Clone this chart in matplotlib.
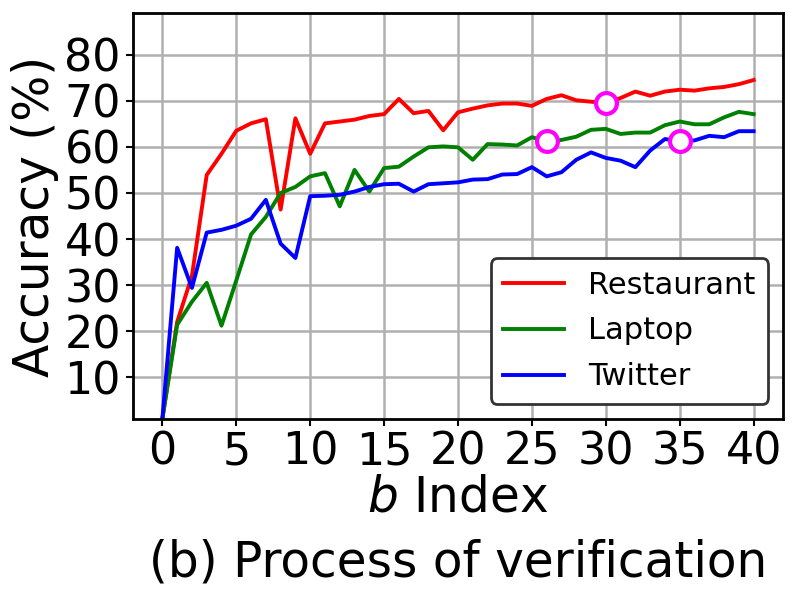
import matplotlib
matplotlib.use('Agg')
import matplotlib.pyplot as plt

b_index = list(range(41))

restaurant = [1, 22, 32, 53.9, 58.5, 63.5, 65.1, 66, 46.4, 66.2, 58.5, 65.1, 65.5, 65.9,
              66.7, 67.1, 70.4, 67.3, 67.8, 63.6, 67.5, 68.3, 69.0, 69.4, 69.4, 68.9,
              70.4, 71.2, 70.1, 69.8, 69.5, 70.6, 72.0, 71.1, 72.0, 72.4, 72.2, 72.7,
              73.0, 73.6, 74.5]
laptop = [1, 21.4, 26.4, 30.5, 21.2, 31, 41, 44.8, 50, 51.3, 53.6, 54.3, 47.1, 55.0,
          50.3, 55.4, 55.7, 57.9, 59.9, 60.1, 59.9, 57.2, 60.6, 60.5, 60.3, 62.1,
          61.2, 61.5, 62.2, 63.7, 63.9, 62.8, 63.1, 63.1, 64.7, 65.5, 64.9, 64.9,
          66.4, 67.6, 67.1]
twitter = [1, 38.1, 29.4, 41.4, 42, 42.9, 44.4, 48.5, 39, 35.9, 49.3, 49.4, 49.6, 50.3,
           51.3, 51.9, 52.0, 50.3, 51.9, 52.1, 52.3, 52.9, 53.0, 54.0, 54.1, 55.6,
           53.6, 54.5, 57.2, 58.8, 57.6, 57.0, 55.6, 59.2, 61.7, 61.2, 61.4, 62.4,
           62.1, 63.4, 63.4]

# highlighted points (index, series)
marks = [(26, laptop), (30, restaurant), (35, twitter)]

fig = plt.figure(figsize=(8, 6), dpi=100)
ax = fig.add_axes([0.166, 0.302, 0.813, 0.676])

ax.plot(b_index, restaurant, color='red', lw=2.8, label='Restaurant')
ax.plot(b_index, laptop, color='green', lw=2.8, label='Laptop')
ax.plot(b_index, twitter, color='blue', lw=2.8, label='Twitter')

for i, series in marks:
    ax.plot(b_index[i], series[i], 'o', markersize=15, markerfacecolor='white',
            markeredgecolor='magenta', markeredgewidth=3, zorder=5)

ax.set_ylim(1, 89)
ax.set_yticks([10, 20, 30, 40, 50, 60, 70, 80])
ax.set_xticks([0, 5, 10, 15, 20, 25, 30, 35, 40])
ax.grid(True, color='#b0b0b0', lw=1.8)
ax.set_axisbelow(True)
ax.tick_params(labelsize=32, width=1.5, length=5)
for s in ax.spines.values():
    s.set_linewidth(2)

ax.set_ylabel('Accuracy (%)', fontsize=35, labelpad=4)
ax.set_xlabel('$b$ Index', fontsize=35, labelpad=0)
ax.text(0.5, -0.295, '(b) Process of verification', transform=ax.transAxes,
        ha='center', va='top', fontsize=35)

leg = ax.legend(loc='lower right', fontsize=22, handlelength=2.0, borderpad=0.4,
                labelspacing=0.55, handletextpad=0.8)
leg.get_frame().set_edgecolor('#333333')
leg.get_frame().set_linewidth(2)
leg.get_frame().set_alpha(1)

fig.savefig('out.png', dpi=100)
